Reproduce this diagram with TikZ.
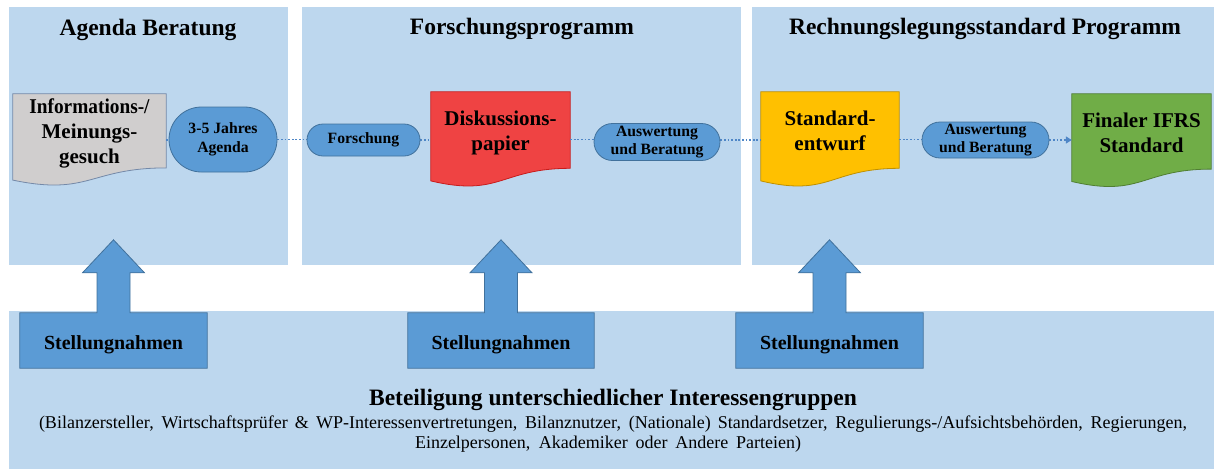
\documentclass[tikz,border=0pt]{standalone}
\usepackage{fontspec}
\setmainfont{Liberation Serif}
\usetikzlibrary{calc,shapes.misc,arrows.meta}
\pgfdeclarelayer{bg}\pgfdeclarelayer{mid}\pgfsetlayers{bg,mid,main}
\definecolor{panel}{HTML}{BDD7EE}
\definecolor{stadfill}{HTML}{5B9BD5}
\definecolor{staddraw}{HTML}{41719C}
\definecolor{grayfill}{HTML}{D0CECE}
\definecolor{graydraw}{HTML}{7489A8}
\definecolor{redfill}{HTML}{EF4343}
\definecolor{reddraw}{HTML}{C81C1C}
\definecolor{yelfill}{HTML}{FFC000}
\definecolor{yeldraw}{HTML}{BF9000}
\definecolor{grnfill}{HTML}{70AD47}
\definecolor{grndraw}{HTML}{507E32}
\definecolor{conncol}{HTML}{4F86C6}
\newcommand{\docoutline}[3]{%
  \begin{pgfonlayer}{mid}
  \path[fill=#2,draw=#3,line width=0.8pt]
    (#1.north west) -- (#1.north east) -- ($(#1.north east)!0.802!(#1.south east)$)
    .. controls ($(#1.north)!0.802!(#1.south)$) and ($(#1.north)!1.1075!(#1.south)$) ..
    ($(#1.north west)!0.934!(#1.south west)$) -- cycle;
  \end{pgfonlayer}}
\newcommand{\calloutshape}[1]{%
  \begin{pgfonlayer}{mid}
  \path[callout] (#1.north west) -- ($(#1.north)+(-16.5,0)$) -- ($(#1.north)+(-16.5,-40)$)
    -- ($(#1.north)+(-31,-40)$) -- ($(#1.north)+(0,-73)$) -- ($(#1.north)+(31,-40)$)
    -- ($(#1.north)+(16.5,-40)$) -- ($(#1.north)+(16.5,0)$) -- (#1.north east)
    -- (#1.south east) -- (#1.south west) -- cycle;
  \end{pgfonlayer}}
\begin{document}
\begin{tikzpicture}[x=1pt,y=-1pt,
  panelbox/.style={rectangle,fill=panel,draw=none,inner sep=0},
  titletxt/.style={font=\fontsize{23.5}{28}\selectfont\bfseries,anchor=base,inner sep=0},
  docbox/.style={rectangle,draw=none,inner sep=0},
  doctxt/.style={font=\fontsize{21}{25}\selectfont\bfseries,align=center,inner sep=0},
  stad/.style={rounded rectangle,fill=stadfill,draw=staddraw,line width=0.8pt,inner sep=0,
    font=\fontsize{15.7}{18.5}\selectfont\bfseries,align=center},
  conn/.style={draw=conncol,line width=1.5pt,dash pattern=on 1.8pt off 1.8pt},
  callbox/.style={rectangle,inner sep=0,minimum height=55pt,
    font=\fontsize{20}{24}\selectfont\bfseries,text height=17pt,text depth=0pt},
  callout/.style={fill=stadfill,draw=staddraw,line width=0.8pt,line join=miter},
  plain/.style={font=\fontsize{18}{20}\selectfont,anchor=base,inner sep=0}]
\useasboundingbox (0,0) rectangle (1214,469);
% panels
\begin{pgfonlayer}{bg}
\node[panelbox,minimum width=279pt,minimum height=258pt] (p1) at (148.5,136) {};
\node[panelbox,minimum width=439pt,minimum height=258pt] (p2) at (521.5,136) {};
\node[panelbox,minimum width=462pt,minimum height=258pt] (p3) at (983,136) {};
\node[panelbox,minimum width=1205pt,minimum height=158pt] (pb) at (611.5,390) {};
\end{pgfonlayer}
% titles
\node[titletxt] (t1) at (148,35) {Agenda Beratung};
\node[titletxt] (t2) at (522,34.5) {Forschungsprogramm};
\node[titletxt] (t3) at (985,34.5) {Rechnungslegungsstandard Programm};
% documents
\node[docbox,minimum width=153pt,minimum height=92pt] (info) at (89.5,140) {};
\node[docbox,minimum width=139pt,minimum height=95pt] (disk) at (500.5,139.5) {};
\node[docbox,minimum width=138pt,minimum height=95pt] (std) at (830,139.5) {};
\node[docbox,minimum width=139pt,minimum height=93.5pt] (fin) at (1141.5,140.75) {};
\docoutline{info}{grayfill}{graydraw}
\docoutline{disk}{redfill}{reddraw}
\docoutline{std}{yelfill}{yeldraw}
\docoutline{fin}{grnfill}{grndraw}
\node[doctxt] (infot) at ($(info.center)+(0,-7)$) {\strut\scalebox{0.92}[1]{Informations-/}\\Meinungs-\\gesuch\strut};
\node[doctxt] (diskt) at ($(disk.center)+(0,-7)$) {\strut Diskussions-\\papier\strut};
\node[doctxt] (stdt) at ($(std.center)+(0,-7)$) {\strut Standard-\\entwurf\strut};
\node[doctxt] (fint) at ($(fin.center)+(0,-6)$) {\strut Finaler IFRS\\Standard\strut};
% stadiums
\node[stad,minimum width=108pt,minimum height=65pt] (agenda) at (223,139.5) {3-5 Jahres\\Agenda};
\node[stad,minimum width=113pt,minimum height=32pt] (forsch) at (363.5,140) {Forschung};
\node[stad,minimum width=126pt,minimum height=37pt] (a1) at (657,142) {Auswertung\\und Beratung};
\node[stad,minimum width=127pt,minimum height=36pt] (a2) at (985.5,140) {Auswertung\\und Beratung};
% connectors
\begin{pgfonlayer}{mid}
\draw[conn] (info.east) -- (info.east -| agenda.west);
\draw[conn] (agenda.east) -- (agenda.east -| forsch.west);
\draw[conn] (forsch.east) -- (forsch.east -| disk.west);
\draw[conn] (disk.east) -- (disk.east -| a1.west);
\draw[conn] ($(a1.east)+(0,-2)$) -- ($(a1.east -| std.west)+(0,-2)$);
\draw[conn] (std.east) -- (std.east -| a2.west);
\draw[conn,-{Triangle[length=6pt,width=7pt]}] (a2.east) -- (a2.east -| fin.west);
\end{pgfonlayer}
% callouts
\node[callbox,minimum width=187pt] (st1) at (113.5,340.5) {Stellungnahmen};
\node[callbox,minimum width=186pt] (st2) at (501,340.5) {Stellungnahmen};
\node[callbox,minimum width=187pt] (st3) at (829.5,340.5) {Stellungnahmen};
\calloutshape{st1}
\calloutshape{st2}
\calloutshape{st3}
% bottom text
\node[titletxt] (bt) at (613,405) {Beteiligung unterschiedlicher Interessengruppen};
\node[plain] (bl1) at (613,428) {\makebox[1148pt][s]{(Bilanzersteller, Wirtschaftsprüfer \& WP-Interessenvertretungen, Bilanznutzer, (Nationale) Standardsetzer, Regulierungs-/Aufsichtsbehörden, Regierungen,}};
\node[plain] (bl2) at (608,448) {\makebox[386pt][s]{Einzelpersonen, Akademiker oder Andere Parteien)}};
\end{tikzpicture}
\end{document}
